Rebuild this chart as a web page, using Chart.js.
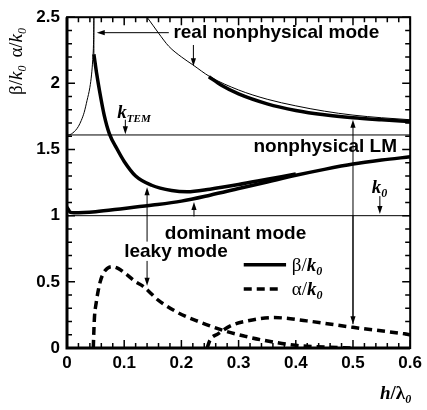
<!DOCTYPE html>
<html>
<head>
<meta charset="utf-8">
<script src="https://cdn.jsdelivr.net/npm/chart.js@4.4.1/dist/chart.umd.min.js"></script>
<style>
  html, body { margin: 0; padding: 0; background: #fff; }
  #wrap { width: 427px; height: 410px; }
</style>
</head>
<body>
<div id="wrap"><canvas id="chart" width="427" height="410"></canvas></div>
<script>
// --- data (h/lambda0 on x) ---
const hTicks = [0, 0.1, 0.2, 0.3, 0.4, 0.5, 0.6];
const yTicks = [0, 0.5, 1, 1.5, 2, 2.5];

// thin curve, nonphysical mode, lower branch
const hNonphysLow = [0, 0.005, 0.01, 0.015, 0.02, 0.025, 0.03, 0.035, 0.04, 0.043, 0.045, 0.0465, 0.047];
const betaNonphysLow = [1.61, 1.612, 1.625, 1.645, 1.675, 1.72, 1.78, 1.87, 1.97, 2.07, 2.18, 2.33, 2.5];

// thin curve, real nonphysical mode, upper branch
const hNonphysHigh = [0.14, 0.15, 0.16, 0.178, 0.2, 0.22, 0.25, 0.3, 0.35, 0.4, 0.45, 0.5, 0.55, 0.6];
const betaNonphysHigh = [2.5, 2.44, 2.38, 2.28, 2.2, 2.14, 2.05, 1.95, 1.88, 1.83, 1.79, 1.76, 1.74, 1.725];

// thick curve, real nonphysical mode
const hRealNp = [0.248, 0.27, 0.3, 0.35, 0.4, 0.45, 0.5, 0.55, 0.6];
const betaRealNp = [2.05, 1.985, 1.92, 1.845, 1.795, 1.762, 1.74, 1.725, 1.712];

// thick curve, leaky mode beta
const hLeaky = [0.047, 0.052, 0.057, 0.065, 0.074, 0.088, 0.1, 0.12, 0.148, 0.183, 0.21, 0.25, 0.3, 0.35, 0.4];
const betaLeaky = [2.22, 2.07, 1.94, 1.76, 1.62, 1.50, 1.41, 1.30, 1.23, 1.19, 1.18, 1.20, 1.235, 1.275, 1.315];

// thick curve, dominant mode beta
const hDominant = [0, 0.006, 0.012, 0.05, 0.1, 0.15, 0.2, 0.25, 0.3, 0.35, 0.4, 0.45, 0.5, 0.55, 0.6];
const betaDominant = [1.065, 1.025, 1.022, 1.03, 1.055, 1.08, 1.11, 1.155, 1.205, 1.255, 1.305, 1.35, 1.39, 1.42, 1.445];

// dashed, leaky mode alpha
const hAlphaLeaky = [0.046, 0.0465, 0.048, 0.051, 0.054, 0.058, 0.063, 0.07, 0.078, 0.09, 0.103, 0.12, 0.132, 0.16, 0.195, 0.23, 0.275, 0.31, 0.344, 0.4, 0.45, 0.5];
const alphaLeaky = [0, 0.07, 0.23, 0.34, 0.42, 0.50, 0.56, 0.60, 0.615, 0.60, 0.56, 0.50, 0.47, 0.36, 0.265, 0.20, 0.13, 0.09, 0.058, 0.02, 0.008, 0];

// dashed, second alpha branch
const hAlphaNp = [0.245, 0.25, 0.264, 0.287, 0.316, 0.362, 0.419, 0.5, 0.59, 0.6];
const alphaNp = [0, 0.06, 0.107, 0.17, 0.205, 0.23, 0.205, 0.156, 0.107, 0.10];

// reference levels
const kTem = 1.61;
const k0 = 1.0;

const SANS = '"Liberation Sans", Arial, sans-serif';
const SERIF = '"Liberation Serif", "Times New Roman", serif';

function pts(xs, ys) {
    return xs.map((x, i) => ({ x: x, y: ys[i] }));
}

function line(data, width, dash) {
    return {
        data: data,
        showLine: true,
        borderColor: '#000',
        borderWidth: width,
        borderDash: dash || [],
        pointRadius: 0,
        cubicInterpolationMode: 'monotone',
        fill: false
    };
}

// annotations, in data coordinates
const textLabels = [
    { text: 'real nonphysical mode', h: 0.186, v: 2.383 },
    { text: 'nonphysical LM', h: 0.326, v: 1.52 },
    { text: 'dominant mode', h: 0.171, v: 0.863 },
    { text: 'leaky mode', h: 0.1, v: 0.724, knockout: true }
];
const arrowList = [
    { from: [0.178, 2.383], to: [0.052, 2.383] },
    { from: [0.221, 2.29], to: [0.221, 2.13] },
    { from: [0.102, 1.725], to: [0.102, 1.615] },
    { from: [0.547, 1.148], to: [0.547, 1.012] },
    { from: [0.222, 0.994], to: [0.222, 1.104] },
    { from: [0.14, 0.804], to: [0.14, 1.215] },
    { from: [0.14, 0.658], to: [0.14, 0.47] },
    { from: [0.5, 0.18], to: [0.5, 1.725] },
    { from: [0.5, 1.0], to: [0.5, 0.18] }
];

function drawRich(ctx, x, y, parts) {
    ctx.textAlign = 'left';
    ctx.textBaseline = 'alphabetic';
    parts.forEach(p => {
        ctx.font = p.font;
        ctx.fillText(p.t, x, y + (p.dy || 0));
        x += ctx.measureText(p.t).width + (p.gap || 0);
    });
}

function arrow(ctx, x1, y1, x2, y2) {
    const a = Math.atan2(y2 - y1, x2 - x1);
    const L = 8, W = 2.6;
    ctx.beginPath();
    ctx.moveTo(x1, y1);
    ctx.lineTo(x2 - Math.cos(a) * L * 0.8, y2 - Math.sin(a) * L * 0.8);
    ctx.stroke();
    ctx.beginPath();
    ctx.moveTo(x2, y2);
    ctx.lineTo(x2 - Math.cos(a) * L - Math.sin(a) * W, y2 - Math.sin(a) * L + Math.cos(a) * W);
    ctx.lineTo(x2 - Math.cos(a) * L + Math.sin(a) * W, y2 - Math.sin(a) * L - Math.cos(a) * W);
    ctx.closePath();
    ctx.fill();
}

const decorPlugin = {
    id: 'decor',
    afterDatasetsDraw(chart) {
        const ctx = chart.ctx;
        const xs = chart.scales.x, ys = chart.scales.y;
        const a = chart.chartArea;
        const X = v => xs.getPixelForValue(v);
        const Y = v => ys.getPixelForValue(v);
        ctx.save();
        ctx.fillStyle = '#000';
        ctx.strokeStyle = '#000';

        // frame
        ctx.lineWidth = 2;
        ctx.strokeRect(a.left, a.top, a.right - a.left, a.bottom - a.top);
        ctx.lineWidth = 3;
        ctx.beginPath();
        ctx.moveTo(a.left, a.top);
        ctx.lineTo(a.left, a.bottom);
        ctx.lineTo(a.right, a.bottom);
        ctx.stroke();

        // inward ticks on all sides
        ctx.lineWidth = 1.5;
        ctx.beginPath();
        for (let i = 0; i <= 30; i++) {
            const px = X(i * 0.02);
            const len = i % 5 === 0 ? 8 : 5;
            ctx.moveTo(px, a.bottom); ctx.lineTo(px, a.bottom - len);
            ctx.moveTo(px, a.top); ctx.lineTo(px, a.top + len);
        }
        for (let i = 0; i <= 25; i++) {
            const py = Y(i * 0.1);
            const len = i % 5 === 0 ? 8 : 5;
            ctx.moveTo(a.left, py); ctx.lineTo(a.left + len, py);
            ctx.moveTo(a.right, py); ctx.lineTo(a.right - len, py);
        }
        ctx.stroke();

        // text labels
        ctx.font = 'bold 19px ' + SANS;
        ctx.textBaseline = 'middle';
        ctx.textAlign = 'left';
        textLabels.forEach(l => {
            if (l.knockout) {
                ctx.fillStyle = '#fff';
                const w = ctx.measureText(l.text).width;
                ctx.fillRect(X(l.h) - 1, Y(l.v) - 10, w + 2, 20);
            }
            ctx.fillStyle = '#000';
            ctx.fillText(l.text, X(l.h), Y(l.v));
        });

        // arrows
        ctx.lineWidth = 1;
        arrowList.forEach(r => arrow(ctx, X(r.from[0]), Y(r.from[1]), X(r.to[0]), Y(r.to[1])));

        // k_TEM and k_0 marks
        drawRich(ctx, X(0.088), Y(1.74), [
            { t: 'k', font: 'bold italic 19px ' + SERIF },
            { t: 'TEM', font: 'bold italic 11px ' + SERIF, dy: 4 }
        ]);
        drawRich(ctx, X(0.533), Y(1.17), [
            { t: 'k', font: 'bold italic 19px ' + SERIF },
            { t: '0', font: 'bold italic 12px ' + SERIF, dy: 4 }
        ]);

        // legend
        ctx.lineWidth = 3.5;
        ctx.beginPath();
        ctx.moveTo(X(0.309), Y(0.629));
        ctx.lineTo(X(0.383), Y(0.629));
        ctx.stroke();
        ctx.setLineDash([8, 5]);
        ctx.beginPath();
        ctx.moveTo(X(0.309), Y(0.446));
        ctx.lineTo(X(0.376), Y(0.446));
        ctx.stroke();
        ctx.setLineDash([]);
        drawRich(ctx, X(0.393), Y(0.629) + 6, [
            { t: '\u03B2/', font: '19px ' + SERIF },
            { t: 'k', font: 'bold italic 19px ' + SERIF },
            { t: '0', font: 'bold italic 12px ' + SERIF, dy: 4 }
        ]);
        drawRich(ctx, X(0.393), Y(0.446) + 6, [
            { t: '\u03B1/', font: '19px ' + SERIF },
            { t: 'k', font: 'bold italic 19px ' + SERIF },
            { t: '0', font: 'bold italic 12px ' + SERIF, dy: 4 }
        ]);

        // y axis title (rotated)
        ctx.save();
        ctx.translate(22, 95);
        ctx.rotate(-Math.PI / 2);
        drawRich(ctx, 0, 0, [
            { t: '\u03B2/', font: '19px ' + SERIF },
            { t: 'k', font: 'italic 19px ' + SERIF },
            { t: '0', font: 'italic 12px ' + SERIF, dy: 4, gap: 8 },
            { t: '\u03B1/', font: '19px ' + SERIF },
            { t: 'k', font: 'italic 19px ' + SERIF },
            { t: '0', font: 'italic 12px ' + SERIF, dy: 4 }
        ]);
        ctx.restore();

        // x axis title
        drawRich(ctx, 380, 399, [
            { t: 'h', font: 'bold italic 19px ' + SERIF },
            { t: '/\u03BB', font: 'bold 19px ' + SERIF },
            { t: '0', font: 'bold italic 12px ' + SERIF, dy: 4 }
        ]);

        ctx.restore();
    }
};

const ctx = document.getElementById('chart').getContext('2d');
const chart = new Chart(ctx, {
    type: 'scatter',
    data: {
        datasets: [
            line(pts([0, 0.6], [kTem, kTem]), 1),
            line(pts([0, 0.6], [k0, k0]), 1),
            line(pts(hNonphysLow, betaNonphysLow), 1),
            line(pts([0.047, 0.047], [2.22, 2.5]), 1),
            line(pts(hNonphysHigh, betaNonphysHigh), 1),
            line(pts(hRealNp, betaRealNp), 3.5),
            line(pts(hLeaky, betaLeaky), 3.5),
            line(pts(hDominant, betaDominant), 3.5),
            line(pts(hAlphaLeaky, alphaLeaky), 3.5, [8, 5]),
            line(pts(hAlphaNp, alphaNp), 3.5, [8, 5])
        ]
    },
    options: {
        responsive: false,
        animation: false,
        devicePixelRatio: 1,
        layout: { padding: { top: 6, right: 12, left: 0, bottom: 0 } },
        plugins: { legend: { display: false }, tooltip: { enabled: false } },
        scales: {
            x: {
                type: 'linear', min: 0, max: 0.6,
                afterFit: s => { s.height = 62; },
                afterBuildTicks: s => { s.ticks = hTicks.map(v => ({ value: v })); },
                grid: { display: false, drawTicks: false },
                border: { display: false },
                ticks: {
                    padding: 5, color: '#000',
                    font: { family: SANS, size: 17, weight: 'bold' },
                    callback: v => v === 0 ? '0' : v.toFixed(1)
                }
            },
            y: {
                type: 'linear', min: 0, max: 2.5,
                afterFit: s => { s.width = 67; },
                afterBuildTicks: s => { s.ticks = yTicks.map(v => ({ value: v })); },
                grid: { display: false, drawTicks: false },
                border: { display: false },
                ticks: {
                    padding: 7, color: '#000',
                    font: { family: SANS, size: 17, weight: 'bold' },
                    callback: v => String(v)
                }
            }
        }
    },
    plugins: [decorPlugin]
});
</script>
</body>
</html>
